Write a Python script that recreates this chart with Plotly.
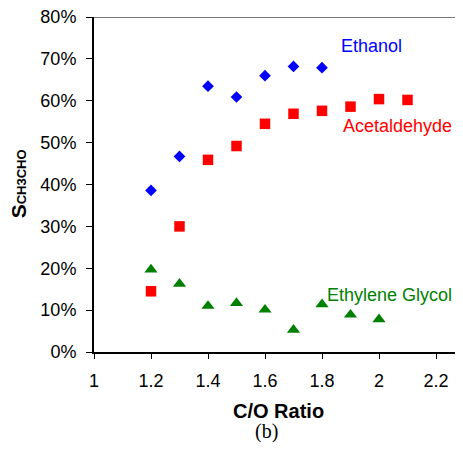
import plotly.graph_objects as go

co_ratio_eth = [1.2, 1.3, 1.4, 1.5, 1.6, 1.7, 1.8]
ethanol = [0.386, 0.467, 0.635, 0.609, 0.660, 0.682, 0.679]

co_ratio_ace = [1.2, 1.3, 1.4, 1.5, 1.6, 1.7, 1.8, 1.9, 2.0, 2.1]
acetaldehyde = [0.145, 0.300, 0.459, 0.492, 0.545, 0.569, 0.576, 0.586, 0.604, 0.602]

co_ratio_eg = [1.2, 1.3, 1.4, 1.5, 1.6, 1.7, 1.8, 1.9, 2.0]
ethylene_glycol = [0.197, 0.163, 0.110, 0.117, 0.101, 0.053, 0.114, 0.089, 0.078]

x_ticks = [1, 1.2, 1.4, 1.6, 1.8, 2, 2.2]
x_tick_labels = ["1", "1.2", "1.4", "1.6", "1.8", "2", "2.2"]
y_ticks = [0, 0.1, 0.2, 0.3, 0.4, 0.5, 0.6, 0.7, 0.8]
y_tick_labels = ["0%", "10%", "20%", "30%", "40%", "50%", "60%", "70%", "80%"]

FONT = "Arial, Liberation Sans, sans-serif"

fig = go.Figure()
fig.add_trace(go.Scatter(x=co_ratio_eth, y=ethanol, mode="markers", name="Ethanol",
                         marker=dict(symbol="diamond", size=9, color="#0000FF")))
fig.add_trace(go.Scatter(x=co_ratio_ace, y=acetaldehyde, mode="markers", name="Acetaldehyde",
                         marker=dict(symbol="square", size=10.5, color="#FF0000")))
fig.add_trace(go.Scatter(x=co_ratio_eg, y=ethylene_glycol, mode="markers", name="Ethylene Glycol",
                         marker=dict(symbol="triangle-up", size=11.5, color="#008000")))

fig.add_annotation(x=1.974, y=0.7315, text="Ethanol", showarrow=False,
                   xanchor="center", yanchor="middle",
                   font=dict(family=FONT, size=18, color="#0000FF"))
fig.add_annotation(x=2.066, y=0.540, text="Acetaldehyde", showarrow=False,
                   xanchor="center", yanchor="middle",
                   font=dict(family=FONT, size=18, color="#FF0000"))
fig.add_annotation(x=2.036, y=0.136, text="Ethylene Glycol", showarrow=False,
                   xanchor="center", yanchor="middle",
                   font=dict(family=FONT, size=18, color="#008000"))

fig.add_annotation(xref="paper", yref="paper", x=0.512, y=-0.176, text="<b>C/O Ratio</b>",
                   xanchor="center", yanchor="middle",
                   showarrow=False, font=dict(family=FONT, size=20, color="black"))
fig.add_annotation(xref="paper", yref="paper", x=-0.21, y=0.501, textangle=-90,
                   xanchor="center", yanchor="middle",
                   text="<b>S<span style='font-size:13px'>CH3CHO</span></b>",
                   showarrow=False, font=dict(family=FONT, size=21, color="black"))
fig.add_annotation(xref="paper", yref="paper", x=0.479, y=-0.238, text="(b)", showarrow=False,
                   xanchor="center", yanchor="middle",
                   font=dict(family="Times New Roman, Liberation Serif, serif", size=20, color="black"))

fig.add_shape(type="line", xref="paper", yref="y", x0=0, x1=1, y0=0.8, y1=0.8,
              line=dict(color="black", width=1))

fig.update_layout(
    width=447, height=434,
    margin=dict(l=86, r=0, t=9, b=90),
    plot_bgcolor="white", paper_bgcolor="white",
    showlegend=False,
    font=dict(family=FONT, size=18, color="black"),
    xaxis=dict(range=[1, 1 + 361 / 285], tickvals=x_ticks, ticktext=x_tick_labels,
               showgrid=False, zeroline=False, showline=True, linecolor="black", linewidth=2,
               ticks="outside", ticklen=5, tickwidth=1, tickcolor="black",
               tickfont=dict(size=18), ticklabelstandoff=6, ticklabeloverflow="allow"),
    yaxis=dict(range=[0, 0.8001], tickvals=y_ticks, ticktext=y_tick_labels,
               showgrid=False, zeroline=False, showline=True, linecolor="black", linewidth=2,
               ticks="outside", ticklen=6, tickwidth=1, tickcolor="black",
               tickfont=dict(size=18), ticklabelstandoff=6, ticklabeloverflow="allow"),
)

fig.write_html("out.html")
